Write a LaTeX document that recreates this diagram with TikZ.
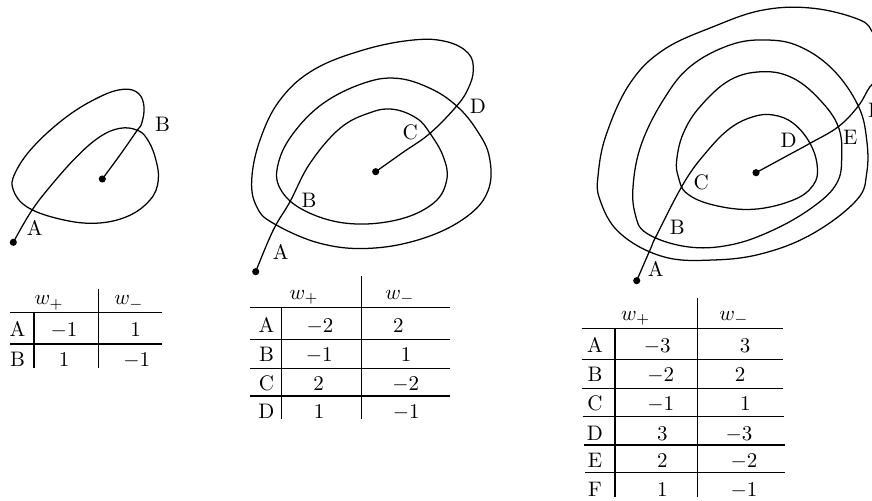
\documentclass[tikz,border=0pt]{standalone}
\begin{document}
\begin{tikzpicture}[x=0.4762pt,y=-0.4762pt,
  curve/.style={line width=0.6pt, smooth, tension=0.65},
  rule/.style={line width=0.6pt},
  lbl/.style={inner sep=0pt},
  cell/.style={inner sep=0pt, anchor=base},
  dotnode/.style={circle, fill, inner sep=0pt, minimum size=3.4pt}]
\useasboundingbox (0,0) rectangle (872,501);
\clip (0,0) rectangle (872,501);

% ---------- Figure 1 ----------
\draw[curve] plot coordinates {(13.3,242.3) (31,211.7) (50,186.7) (76.7,156.7) (100,136.7) (120,128.3) (136.7,130) (146.7,138.3) (155,156.7) (158.3,180) (150,200) (126.7,216.7) (93.3,223.3) (56.7,218.3) (26.7,206.7) (13.3,190) (15,173.3) (33.3,146.7) (66.7,116.7) (100,96.7) (123.3,89.3) (138.3,93.3) (144,106.7) (141.7,123.3) (136.7,131) (120,155) (102.3,179)};
\node[dotnode] (s1) at (13.3,242.3) {};
\node[dotnode] (e1) at (102.3,179) {};
\node[lbl] (l1a) at (34.7,228) {A};
\node[lbl] (l1b) at (162.5,124.5) {B};

% ---------- Figure 2 ----------
\draw[curve] plot coordinates {(255.7,271.7) (273.3,230) (290,201.7) (310,163.3) (340,128.3) (370,112.7) (393.3,109.3) (416.7,118.3) (430,133.3) (443.3,156.7) (446.7,180) (433.3,203.3) (396.7,220) (346.7,223.3) (303.3,210) (280,188.3) (278.3,163.3) (293.3,133.3) (323.3,103.3) (363.3,83.3) (396.7,78.3) (430,88.3) (456.7,106) (476.7,130) (489.3,156.7) (488.3,190) (466.7,216.7) (423.3,238.3) (370,248.3) (320,243.3) (273.3,223.3) (256.7,206.7) (251.7,180) (260,140) (280,100) (313.3,70) (363.3,50) (413.3,40) (446.7,41.7) (468.3,53.3) (473.3,70) (468.3,88.3) (456.7,106) (430,133.3) (402.8,152.5) (375.7,171.7)};
\node[dotnode] (s2) at (255.7,271.7) {};
\node[dotnode] (e2) at (375.7,171.7) {};
\node[lbl] (l2a) at (280.7,252) {A};
\node[lbl] (l2b) at (309,200) {B};
\node[lbl] (l2c) at (410.3,132.3) {C};
\node[lbl] (l2d) at (478,106) {D};

% ---------- Figure 3 ----------
\draw[curve] plot coordinates {(636.7,280.7) (650.7,248.3) (656.7,235) (684,182.7) (706.7,151.7) (730,128.3) (753.3,116.7) (773.3,115) (793.3,123.3) (810,143.3) (817.3,166.7) (813.3,185) (793.3,200) (753.3,209.3) (713.3,205) (686.7,193.3) (678.3,176.7) (676.7,160) (683.3,133.3) (700,106.7) (730,80) (763.3,71.7) (793.3,78.3) (820,100) (838.3,126.7) (841.7,156.7) (836.7,183.3) (813.3,206.7) (773.3,230) (730,245) (686.7,246.7) (646.7,233.3) (635,213.3) (633.3,183.3) (641.7,143.3) (663.3,100) (690,66.7) (730,45) (766.7,40) (800,46.7) (833.3,70) (858.3,106) (866.7,140) (866.7,173) (856.7,200) (813.3,233.3) (763.3,253.3) (713.3,260) (663.3,256.7) (620,233.3) (600,200) (598.3,173.3) (606.7,133.3) (630,83.3) (663.3,50) (713.3,26.7) (763.3,10) (813.3,8.3) (860,20) (873.3,33.3) (885,50) (888,65) (880,78) (870,86.7) (858.3,106) (838.3,126.7) (810,143.3) (783,158) (756,172.7)};
\node[dotnode] (s3) at (636.7,280.7) {};
\node[dotnode] (e3) at (756,172.7) {};
\node[lbl] (l3a) at (655.7,269) {A};
\node[lbl] (l3b) at (677.3,227) {B};
\node[lbl] (l3c) at (701.3,182.7) {C};
\node[lbl] (l3d) at (788.7,140) {D};
\node[lbl] (l3e) at (850.3,137) {E};
\node[lbl] (l3f) at (875,110) {F};

% ---------- Table 1 ----------
\draw[rule] (10,312.7) -- (162.3,312.7);
\draw[rule] (10,344) -- (162.3,344);
\draw[rule] (34,312.7) -- (34,368.3);
\draw[rule] (98.3,289) -- (98.3,368.3);
\node[cell] (t1h1) at (49,305) {$w_+$};
\node[cell] (t1h2) at (129,305) {$w_-$};
\node[cell] (t1ra) at (17.5,336.5) {A};
\node[cell] (t1a1) at (64,336.5) {$-1$};
\node[cell] (t1a2) at (135.5,336.5) {$1$};
\node[cell] (t1rb) at (17.5,367) {B};
\node[cell] (t1b1) at (64,367) {$1$};
\node[cell] (t1b2) at (136.7,367) {$-1$};

% ---------- Table 2 ----------
\draw[rule] (250,307.7) -- (450,307.7);
\draw[rule] (250,339.3) -- (450,339.3);
\draw[rule] (250,368.3) -- (450,368.3);
\draw[rule] (250,396) -- (450,396);
\draw[rule] (281.7,307.7) -- (281.7,419.3);
\draw[rule] (361.7,276) -- (361.7,419.3);
\node[cell] (t2h1) at (304,299.3) {$w_+$};
\node[cell] (t2h2) at (400,299.3) {$w_-$};
\node[cell] (t2ra) at (266.5,332.7) {A};
\node[cell] (t2a1) at (320,332.7) {$-2$};
\node[cell] (t2a2) at (398.3,332.7) {$2$};
\node[cell] (t2rb) at (266.5,361.7) {B};
\node[cell] (t2b1) at (319.3,361.7) {$-1$};
\node[cell] (t2b2) at (406,361.7) {$1$};
\node[cell] (t2rc) at (266.5,390) {C};
\node[cell] (t2c1) at (318.7,390) {$2$};
\node[cell] (t2c2) at (405.7,390) {$-2$};
\node[cell] (t2rd) at (266.5,418.3) {D};
\node[cell] (t2d1) at (319,418.3) {$1$};
\node[cell] (t2d2) at (406.3,418.3) {$-1$};

% ---------- Table 3 ----------
\draw[rule] (581.7,328.3) -- (783,328.3);
\draw[rule] (581.7,359.3) -- (783,359.3);
\draw[rule] (581.7,388.3) -- (783,388.3);
\draw[rule] (582.5,416.7) -- (783.5,416.7);
\draw[rule] (584,445) -- (785,445);
\draw[rule] (585,472.7) -- (785,472.7);
\draw[rule] (615,328.3) -- (615,497);
\draw[rule] (697.3,298.3) -- (697.3,497);
\node[cell] (t3h1) at (635.7,320.7) {$w_+$};
\node[cell] (t3h2) at (734,320.7) {$w_-$};
\node[cell] (t3ra) at (595,352.7) {A};
\node[cell] (t3a1) at (657.3,352.7) {$-3$};
\node[cell] (t3a2) at (745,352.7) {$3$};
\node[cell] (t3rb) at (595,381.7) {B};
\node[cell] (t3b1) at (660.7,381.7) {$-2$};
\node[cell] (t3b2) at (740,381.7) {$2$};
\node[cell] (t3rc) at (595,410) {C};
\node[cell] (t3c1) at (660.7,410) {$-1$};
\node[cell] (t3c2) at (745.3,410) {$1$};
\node[cell] (t3rd) at (595,440) {D};
\node[cell] (t3d1) at (662.3,440) {$3$};
\node[cell] (t3d2) at (739,440) {$-3$};
\node[cell] (t3re) at (595,467.3) {E};
\node[cell] (t3e1) at (662.3,467.3) {$2$};
\node[cell] (t3e2) at (744,467.3) {$-2$};
\node[cell] (t3rf) at (595,496) {F};
\node[cell] (t3f1) at (662.3,496) {$1$};
\node[cell] (t3f2) at (744,496) {$-1$};
\end{tikzpicture}
\end{document}
